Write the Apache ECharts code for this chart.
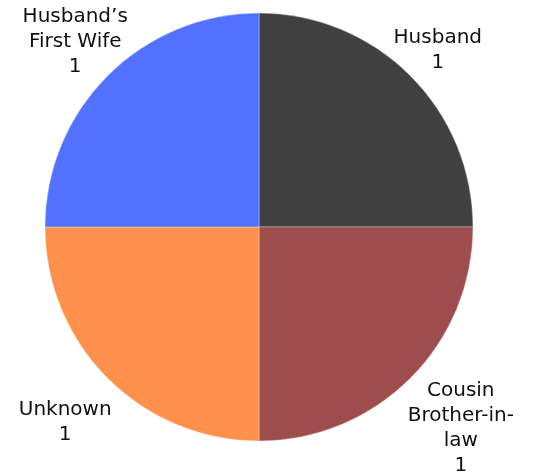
<!DOCTYPE html>
<html>
<head>
<meta charset="utf-8">
<script src="https://cdn.jsdelivr.net/npm/echarts@6/dist/echarts.min.js"></script>
<style>
  html, body { margin: 0; padding: 0; background: #fff; }
  #main { width: 533px; height: 475px; }
</style>
</head>
<body>
<div id="main"></div>
<script>
var categories = ['Husband', 'Cousin\nBrother-in-\nlaw', 'Unknown', 'Husband\u2019s\nFirst Wife'];
var values = [1, 1, 1, 1];
var colors = ['#404040', '#9e4d4d', '#ff914d', '#5271ff'];

var myChart = echarts.init(document.getElementById('main'));

var data = categories.map(function (name, i) {
    return { name: name, value: values[i], itemStyle: { color: colors[i] } };
});

// small nudges so labels sit like the original
var nudge = [[-3, 0], [20, 25], [-12, 19], [-2, -8]];

var option = {
    animation: false,
    series: [{
        type: 'pie',
        center: [259, 227],
        radius: 214,
        startAngle: 90,
        clockwise: true,
        data: data,
        itemStyle: {
            borderColor: 'rgba(255,255,255,0.35)',
            borderWidth: 1
        },
        label: {
            show: true,
            position: 'outside',
            formatter: '{b}\n{c}',
            fontFamily: 'DejaVu Sans',
            fontSize: 20,
            lineHeight: 25,
            color: '#111',
            align: 'center',
            overflow: 'none',
            edgeDistance: 0,
            bleedMargin: 0
        },
        labelLine: { show: false, length: 36, length2: 0 },
        labelLayout: function (params) {
            var n = nudge[params.dataIndex];
            return { align: 'center', verticalAlign: 'middle', dx: n[0], dy: n[1] };
        }
    }]
};
myChart.setOption(option);
</script>
</body>
</html>
